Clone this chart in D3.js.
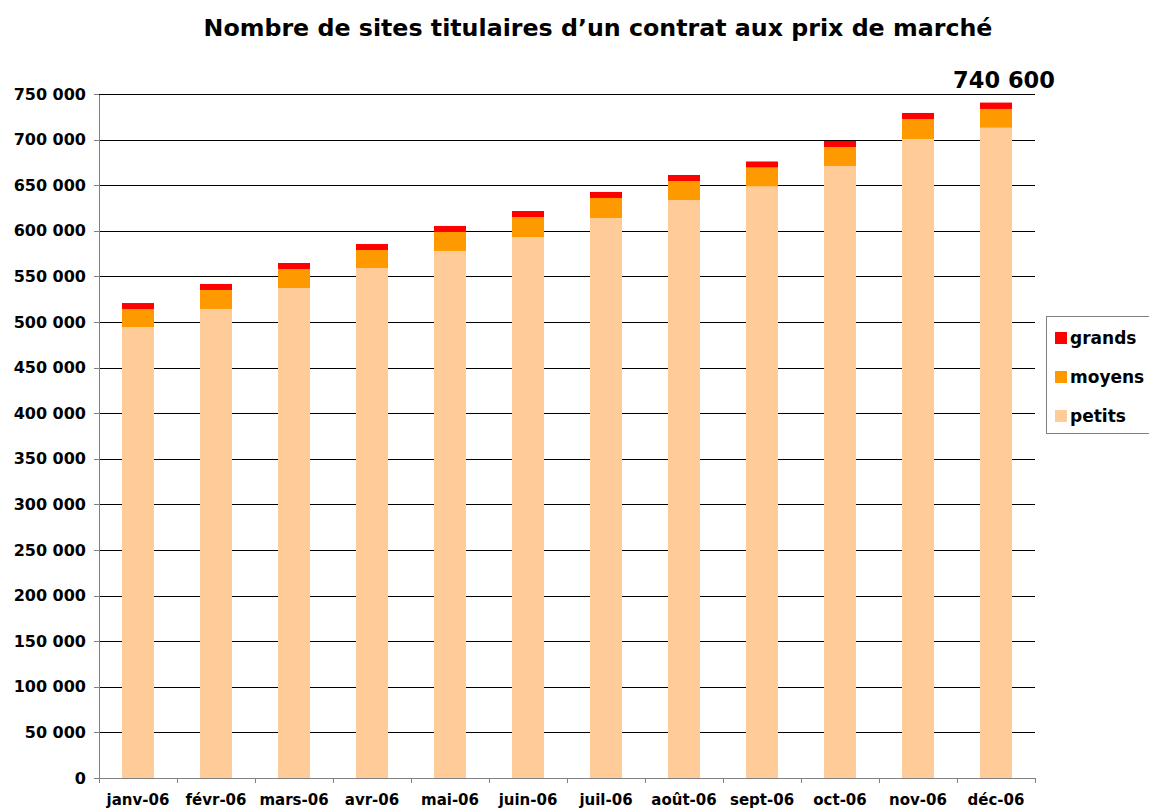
<!DOCTYPE html>
<meta charset="utf-8">
<head>
    <title>Sites titulaires</title>
</head>

<style>
body { margin: 0; background: #fff; }

text {
  font-family: "DejaVu Sans", Verdana, sans-serif;
  font-weight: bold;
  fill: #000;
}

.grid line {
  stroke: #000;
  stroke-width: 1;
  shape-rendering: crispEdges;
}

.axis path,
.axis line {
  fill: none;
  stroke: #808080;
  shape-rendering: crispEdges;
}

.axis text { font-size: 16px; }
.axis--x text { font-size: 15px; }
</style>
<body>
<script src="https://cdn.jsdelivr.net/npm/d3@7"></script>
<script>

var months = ["janv-06", "févr-06", "mars-06", "avr-06", "mai-06", "juin-06",
              "juil-06", "août-06", "sept-06", "oct-06", "nov-06", "déc-06"];

var petits = [494500, 514300, 537300, 559200, 577900, 593200,
              614000, 633800, 648600, 671000, 700700, 713000];
var moyens = [19700, 20800, 20800, 19700, 20800, 21900,
              22000, 20800, 20800, 20900, 21900, 20600];
var grands = [6600, 6600, 6600, 6600, 6600, 6600,
              6600, 6600, 6600, 6600, 6600, 7000];

var yTicks = d3.range(0, 750001, 50000);
var totalLabel = "740 600";

var keys = ["petits", "moyens", "grands"];
var colors = {petits: "#ffcc99", moyens: "#ff9900", grands: "#ff0000"};

var rows = months.map(function(m, i) {
  return {month: m, petits: petits[i], moyens: moyens[i], grands: grands[i]};
});

var W = 1149, H = 808;
var margin = {top: 94, right: 114, bottom: 30, left: 99},
    width = W - margin.left - margin.right,
    height = H - margin.top - margin.bottom;

var svgRoot = d3.select("body").append("svg")
    .attr("width", W)
    .attr("height", H);

var svg = svgRoot.append("g")
    .attr("transform", "translate(" + margin.left + "," + margin.top + ")");

var x = d3.scaleBand()
    .domain(months)
    .range([0, width])
    .paddingInner(0.59)
    .paddingOuter(0.3);

var xb = d3.scaleBand().domain(months).range([0, width]);

var y = d3.scaleLinear()
    .domain([0, 750000])
    .range([height, 0]);

var fmt = function(d) { return d3.format(",")(d).replace(/,/g, " "); };

// gridlines
svg.append("g")
    .attr("class", "grid")
  .selectAll("line")
    .data(yTicks.filter(function(d) { return d > 0; }))
  .enter().append("line")
    .attr("x1", 0)
    .attr("x2", width)
    .attr("y1", function(d) { return Math.round(y(d)) + 0.5; })
    .attr("y2", function(d) { return Math.round(y(d)) + 0.5; });

// stacked bars
var series = d3.stack().keys(keys)(rows);

svg.append("g")
  .selectAll("g")
    .data(series)
  .enter().append("g")
    .attr("fill", function(d) { return colors[d.key]; })
  .selectAll("rect")
    .data(function(d) { return d; })
  .enter().append("rect")
    .attr("x", function(d) { return xb(d.data.month) + xb.bandwidth() / 2 - 16; })
    .attr("width", 32)
    .attr("y", function(d) { return y(d[1]); })
    .attr("height", function(d) { return y(d[0]) - y(d[1]); });

// y axis
var yAxis = svg.append("g")
    .attr("class", "axis axis--y")
    .call(d3.axisLeft(y).tickValues(yTicks).tickFormat(fmt).tickSize(5).tickSizeOuter(0));
yAxis.selectAll("text").attr("x", -13);

// x axis
var xAxis = svg.append("g")
    .attr("class", "axis axis--x")
    .attr("transform", "translate(0," + height + ")")
    .call(d3.axisBottom(xb).tickSize(0));
xAxis.selectAll("text").attr("dy", 0).attr("y", 27);

// x ticks at band boundaries
xAxis.selectAll(".bound")
    .data(d3.range(months.length + 1))
  .enter().append("line")
    .attr("class", "bound")
    .attr("x1", function(i) { return Math.round(i * xb.step()) + 0.5; })
    .attr("x2", function(i) { return Math.round(i * xb.step()) + 0.5; })
    .attr("y1", 0)
    .attr("y2", 5);

// total label over last bar
var last = rows[rows.length - 1];
svg.append("text")
    .attr("x", xb(last.month) + xb.bandwidth() / 2 + 8)
    .attr("y", y(last.petits + last.moyens + last.grands) - 15)
    .attr("text-anchor", "middle")
    .style("font-size", "22.5px")
    .text(totalLabel);

// title
var title = svgRoot.append("text")
    .attr("x", 598)
    .attr("y", 36)
    .attr("text-anchor", "middle")
    .style("font-size", "20px")
    .text("Nombre de sites titulaires d\u2019un contrat aux prix de marché");
var tw = title.node().getComputedTextLength();
title.style("font-size", (20 * 789 / tw) + "px");

// legend
var legend = svgRoot.append("g")
    .attr("transform", "translate(1046,316)");

legend.append("rect")
    .attr("x", 0.5)
    .attr("y", 0.5)
    .attr("width", 110)
    .attr("height", 117)
    .attr("fill", "#fff")
    .attr("stroke", "#808080");

var items = ["grands", "moyens", "petits"];
var li = legend.selectAll(".li")
    .data(items)
  .enter().append("g")
    .attr("class", "li")
    .attr("transform", function(d, i) { return "translate(0," + (22 + i * 39) + ")"; });

li.append("rect")
    .attr("x", 9)
    .attr("y", -6)
    .attr("width", 12)
    .attr("height", 12)
    .attr("fill", function(d) { return colors[d]; });

li.append("text")
    .attr("x", 24)
    .attr("y", 0)
    .attr("dy", "0.35em")
    .style("font-size", "17px")
    .text(function(d) { return d; });

</script>
</body>
